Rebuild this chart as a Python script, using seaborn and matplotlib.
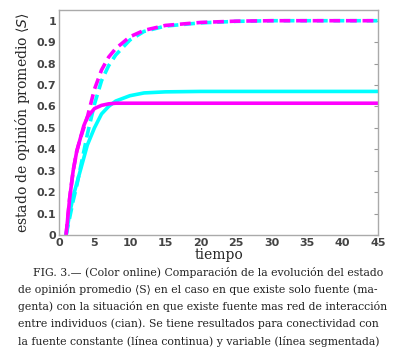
import matplotlib
matplotlib.use("Agg")
import matplotlib.pyplot as plt
import pandas as pd
import seaborn as sns

# tiempo y valores
t = [1, 1.5, 2, 2.5, 3, 3.5, 4, 5, 6, 7, 8, 10, 12, 15, 20, 25, 30, 35, 40, 45]
fuente_const = [0, 0.17, 0.30, 0.39, 0.45, 0.51, 0.55, 0.59, 0.605, 0.612, 0.615, 0.615, 0.615,
                0.615, 0.615, 0.615, 0.615, 0.615, 0.615, 0.615]
red_const = [0, 0.10, 0.18, 0.24, 0.30, 0.36, 0.42, 0.50, 0.565, 0.60, 0.625, 0.65, 0.663,
             0.668, 0.67, 0.67, 0.67, 0.67, 0.67, 0.67]
fuente_var = [0, 0.17, 0.30, 0.39, 0.45, 0.50, 0.55, 0.68, 0.77, 0.83, 0.87, 0.925, 0.955,
              0.978, 0.992, 0.998, 1.0, 1.0, 1.0, 1.0]
red_var = [0, 0.08, 0.16, 0.23, 0.31, 0.39, 0.47, 0.61, 0.72, 0.79, 0.84, 0.91, 0.95,
           0.975, 0.99, 0.997, 1.0, 1.0, 1.0, 1.0]

sns.set_style("white")

df = pd.DataFrame({"t": t * 4,
                   "S": fuente_const + red_const + fuente_var + red_var,
                   "serie": ["fc"] * len(t) + ["rc"] * len(t) + ["fv"] * len(t) + ["rv"] * len(t)})

fig = plt.figure(figsize=(4.01, 3.54), dpi=100)
ax = fig.add_axes([59 / 401, 1 - 235 / 354, 319 / 401, 225 / 354])

estilos = {"fc": ("#ff00ff", "-"), "rc": ("#00ffff", "-"),
           "fv": ("#ff00ff", (0, (3, 1.6))), "rv": ("#00ffff", (0, (3, 1.6)))}
for s in ["rv", "fv", "rc", "fc"]:
    sub = df[df["serie"] == s]
    c, ls = estilos[s]
    sns.lineplot(data=sub, x="t", y="S", color=c, linestyle=ls, linewidth=2.6, ax=ax, legend=False)

ax.set_xlim(0, 45)
ax.set_ylim(0, 1.05)
ax.set_xticks(range(0, 46, 5))
ax.set_yticks([i / 10 for i in range(11)])
ax.set_yticklabels(["0", "0.1", "0.2", "0.3", "0.4", "0.5", "0.6", "0.7", "0.8", "0.9", "1"])
ax.tick_params(axis="both", direction="in", length=3, color="#999999", labelsize=8,
               labelcolor="#444444", right=True, top=False, pad=2)
for lab in ax.get_xticklabels() + ax.get_yticklabels():
    lab.set_fontweight("bold")
for sp in ax.spines.values():
    sp.set_color("#aaaaaa")
    sp.set_linewidth(1)

ax.set_xlabel("tiempo", family="DejaVu Serif", fontsize=10, labelpad=0)
ax.set_ylabel(r"estado de opinión promedio $\langle S\rangle$", family="DejaVu Serif",
              fontsize=10, labelpad=3)

caption = [
    "FIG. 3.— (Color online) Comparación de la evolución del estado",
    "de opinión promedio ⟨S⟩ en el caso en que existe solo fuente (ma-",
    "genta) con la situación en que existe fuente mas red de interacción",
    "entre individuos (cian). Se tiene resultados para conectividad con",
    "la fuente constante (línea continua) y variable (línea segmentada)",
]
for i, linea in enumerate(caption):
    x0 = 33 if i == 0 else 18
    fig.text(x0 / 401, 1 - (272 + i * 17.3) / 354, linea, ha="left", va="center",
             family="DejaVu Serif", fontsize=7.8, color="#222222")

fig.savefig("out.png", dpi=100)
